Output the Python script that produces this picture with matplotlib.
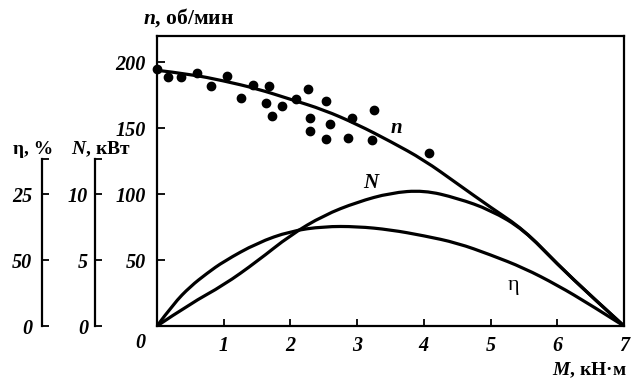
import matplotlib
matplotlib.use("Agg")
from matplotlib import pyplot as plt
from matplotlib.path import Path
from matplotlib.patches import PathPatch

plt.rcParams['font.family'] = ['Liberation Serif', 'DejaVu Serif']
plt.rcParams['mathtext.fontset'] = 'custom'
plt.rcParams['mathtext.it'] = 'Liberation Serif:italic:bold'
plt.rcParams['mathtext.rm'] = 'Liberation Serif:bold'

# опытные точки n(M)
pts_M = [0.0, 0.16, 0.36, 0.60, 0.81, 1.05, 1.26, 1.44, 1.68, 1.63, 1.72, 1.88,
         2.08, 2.27, 2.29, 2.29, 2.54, 2.59, 2.54, 2.86, 2.93, 3.26, 3.23, 4.08]
pts_n = [195, 189, 189, 192, 182, 190, 173, 183, 182, 169, 159, 167,
         172, 180, 158, 148, 171, 153, 142, 143, 158, 164, 141, 131]

# кривая n, об/мин
n_M = [0, 0.5, 1, 1.5, 2, 2.5, 3, 3.5, 4, 4.5, 5, 5.5, 6, 6.5, 7]
n_val = [194, 191, 186, 180, 172, 164, 153, 140, 126, 108, 90, 73, 47, 23, 0]

# кривая N, кВт
N_M = [0, 0.5, 1, 1.5, 2, 2.5, 3, 3.5, 4, 4.5, 5, 5.5, 6, 6.5, 7]
N_val = [0, 1.7, 3.1, 4.9, 6.9, 8.4, 9.4, 10.1, 10.3, 9.7, 8.8, 7.3, 4.7, 2.3, 0]

# кривая КПД
eta_M = [0, 0.25, 0.5, 0.75, 1, 1.5, 2, 2.5, 3, 3.5, 4, 4.5, 5, 5.5, 6, 6.5, 7]
eta_val = [0, 17, 30, 40, 49, 63, 72, 75.5, 75.5, 73, 68.5, 63, 54, 44, 31, 16, 0]

x_ticks = [1, 2, 3, 4, 5, 6, 7]
n_ticks = [50, 100, 150, 200]
N_ticks = [0, 5, 10]
eta_ticks = ['0', '50', '25']

lw = 2.3
tick_font = dict(family='Liberation Serif', style='italic', weight='bold', size=14.5)


def smooth(ax, xs, ys):
    # плавная кривая через середины отрезков (квадратичные Безье)
    verts = [(xs[0], ys[0])]
    codes = [Path.MOVETO]
    for i in range(1, len(xs) - 1):
        mx, my = (xs[i] + xs[i + 1]) / 2, (ys[i] + ys[i + 1]) / 2
        if i == len(xs) - 2:
            mx, my = xs[i + 1], ys[i + 1]
        verts += [(xs[i], ys[i]), (mx, my)]
        codes += [Path.CURVE3, Path.CURVE3]
    ax.add_patch(PathPatch(Path(verts, codes), fill=False, lw=lw, color='black',
                           capstyle='round', joinstyle='round'))


fig = plt.figure(figsize=(6.41, 3.89), dpi=100)
b, h = 63 / 389, 290 / 389
ax = fig.add_axes([157 / 641, b, 467 / 641, h])

smooth(ax, n_M, n_val)
smooth(ax, N_M, [v * 10 for v in N_val])
smooth(ax, eta_M, eta_val)
ax.scatter(pts_M, pts_n, s=36, color='black', zorder=3, clip_on=False)

ax.set_xlim(0, 7)
ax.set_ylim(0, 220)
for s in ax.spines.values():
    s.set_linewidth(1.6)

ax.set_xticks(x_ticks)
ax.set_xticklabels([str(t) for t in x_ticks], fontdict=tick_font)
ax.tick_params(axis='x', direction='in', length=5, width=1.3, pad=7)
ax.set_yticks(n_ticks)
ax.set_yticklabels([str(t) for t in n_ticks], fontdict=tick_font)
ax.tick_params(axis='y', direction='in', length=6, width=1.3, pad=8)
ax.text(-0.035, -0.06, '0', transform=ax.transAxes, ha='center', va='center', **tick_font)

ax.text(3.59, 150, '$n$', fontsize=15, ha='center', va='center')
ax.text(3.22, 108, '$N$', fontsize=15, ha='center', va='center')
ax.text(5.35, 31, 'η', fontsize=16, ha='center', va='center')

fig.text(143 / 641, 1 - 18 / 389, '$n$, об/мин', fontsize=15.5, weight='bold', ha='left', va='center')
fig.text(627 / 641, 1 - 370 / 389, '$M$, кН·м', fontsize=14, weight='bold', ha='right', va='center')
fig.text(71 / 641, 1 - 149 / 389, '$N$, кВт', fontsize=14, weight='bold', ha='left', va='center')
fig.text(13 / 641, 1 - 149 / 389, 'η, %', fontsize=14, weight='bold', ha='left', va='center')


def side_axis(x_px, labels, pad):
    a = fig.add_axes([x_px / 641, b, 0.01, h])
    a.set_ylim(0, 22)
    a.set_xticks([])
    for k in ['top', 'right', 'bottom']:
        a.spines[k].set_visible(False)
    a.spines['left'].set_linewidth(1.6)
    a.spines['left'].set_bounds(0, 12.65)
    a.patch.set_visible(False)
    a.set_yticks(N_ticks + [12.65])
    a.set_yticklabels(labels + [''], fontdict=tick_font)
    a.tick_params(axis='y', direction='in', length=5, width=1.3, pad=pad)
    return a


side_axis(95, [str(t) for t in N_ticks], 5)
side_axis(42, eta_ticks, 7)

fig.savefig('out.png', dpi=100)
